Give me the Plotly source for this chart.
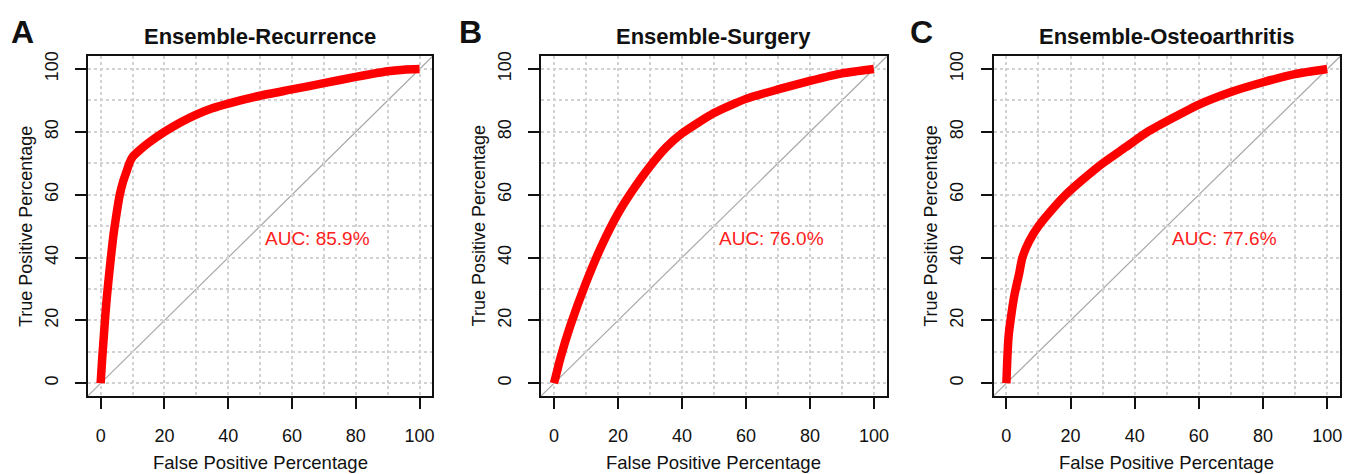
import plotly.graph_objects as go

# ---- data ----
panel_letters = ["A", "B", "C"]
panel_titles = ["Ensemble-Recurrence", "Ensemble-Surgery", "Ensemble-Osteoarthritis"]
auc_labels = ["AUC: 85.9%", "AUC: 76.0%", "AUC: 77.6%"]

rec_fpr = [0, 0.5, 1, 1.5, 2, 3, 4, 5, 6, 7, 8, 9, 10, 12, 15, 20, 25, 30, 35, 40, 50, 60, 70, 80, 90, 95, 100]
rec_tpr = [0, 8, 15, 22, 28, 38, 47, 54, 60, 64, 67, 70, 72, 74, 76.5, 80, 83, 85.5, 87.5, 89, 91.5, 93.5, 95.5, 97.5, 99.3, 99.8, 100]

sur_fpr = [0, 1, 2, 5, 10, 15, 20, 25, 30, 35, 40, 50, 60, 70, 80, 90, 100]
sur_tpr = [0, 4, 8, 18, 32, 44, 54, 62, 69, 75, 79.5, 86, 90.5, 93.5, 96.2, 98.6, 100]

ost_fpr = [0, 0.3, 0.7, 1.3, 2.5, 4, 5, 7, 10, 14, 18.5, 24, 30, 37, 44, 52, 60, 70, 80, 90, 100]
ost_tpr = [0, 8, 15, 20, 28, 35, 40, 45, 50, 55, 60, 65, 70, 75, 80, 84.5, 88.7, 92.7, 95.8, 98.4, 100]

tick_vals = [0, 20, 40, 60, 80, 100]
x_label = "False Positive Percentage"
y_label = "True Positive Percentage"

curves = [(rec_fpr, rec_tpr), (sur_fpr, sur_tpr), (ost_fpr, ost_tpr)]

# ---- layout geometry ----
W, H = 1358, 474
x_domains = [[88 / W, 433 / W], [542 / W, 888 / W], [995 / W, 1342 / W]]
y_domain = [1 - 395 / H, 1 - 52 / H]
letter_x = [23, 471, 923]
FONT = "Liberation Sans, Arial, sans-serif"
INK = "#111111"

fig = go.Figure()
annotations = []
shapes = []

for i, (fx, ty) in enumerate(curves):
    xa = "x" if i == 0 else f"x{i+1}"
    ya = "y" if i == 0 else f"y{i+1}"
    fig.add_trace(go.Scatter(
        x=fx, y=ty, xaxis=xa, yaxis=ya, mode="lines",
        line=dict(color="#ff0000", width=8.5, shape="spline", smoothing=0.6),
        showlegend=False, hoverinfo="x+y",
    ))
    # chance diagonal (y = x across the whole box, same ranges on both axes)
    shapes.append(dict(type="line", xref=f"{xa} domain", yref=f"{ya} domain",
                       x0=0, y0=0, x1=1, y1=1,
                       line=dict(color="#a8a8a8", width=1.2), layer="below"))

    axis_common = dict(
        range=[-4, 104], tickvals=tick_vals, ticks="outside", ticklen=11, tickwidth=2,
        tickcolor=INK, showline=True, linewidth=2, linecolor=INK, mirror=True,
        showgrid=True, gridcolor="#d2d2d2", griddash="dot", gridwidth=1.5,
        minor=dict(dtick=10, tick0=0, showgrid=True, gridcolor="#d2d2d2", griddash="dot", gridwidth=1.5),
        zeroline=False, tickfont=dict(family=FONT, size=18, color=INK),
    )
    xkey = "xaxis" if i == 0 else f"xaxis{i+1}"
    ykey = "yaxis" if i == 0 else f"yaxis{i+1}"
    fig.update_layout(**{
        xkey: dict(domain=x_domains[i], anchor=ya, ticklabelstandoff=12, **axis_common),
        ykey: dict(domain=y_domain, anchor=xa, tickangle=-90, ticklabelstandoff=10, **axis_common),
    })

    cx = (x_domains[i][0] + x_domains[i][1]) / 2
    annotations += [
        dict(text=f"<b>{panel_titles[i]}</b>", x=cx, y=1 - 32 / H, xref="paper", yref="paper",
             showarrow=False, xanchor="center", yanchor="middle",
             font=dict(family=FONT, size=22, color=INK)),
        dict(text=f"<b>{panel_letters[i]}</b>", x=letter_x[i] / W, y=1 - 27 / H, xref="paper", yref="paper",
             showarrow=False, xanchor="center", yanchor="middle",
             font=dict(family=FONT, size=32, color=INK)),
        dict(text=x_label, x=cx, y=1 - 462 / H, xref="paper", yref="paper",
             showarrow=False, xanchor="center", yanchor="middle",
             font=dict(family=FONT, size=18.5, color=INK)),
        dict(text=y_label, x=(x_domains[i][0] * W - 62) / W, y=(y_domain[0] + y_domain[1]) / 2,
             xref="paper", yref="paper", textangle=-90,
             showarrow=False, xanchor="center", yanchor="middle",
             font=dict(family=FONT, size=18, color=INK)),
        dict(text=auc_labels[i], x=51, y=50, xref=xa, yref=ya,
             showarrow=False, xanchor="left", yanchor="top",
             font=dict(family=FONT, size=19, color="#ff2020")),
    ]

fig.update_layout(
    width=W, height=H, autosize=False,
    margin=dict(l=0, r=0, t=0, b=0),
    paper_bgcolor="white", plot_bgcolor="white",
    annotations=annotations, shapes=shapes,
)

fig.write_html("out.html")
